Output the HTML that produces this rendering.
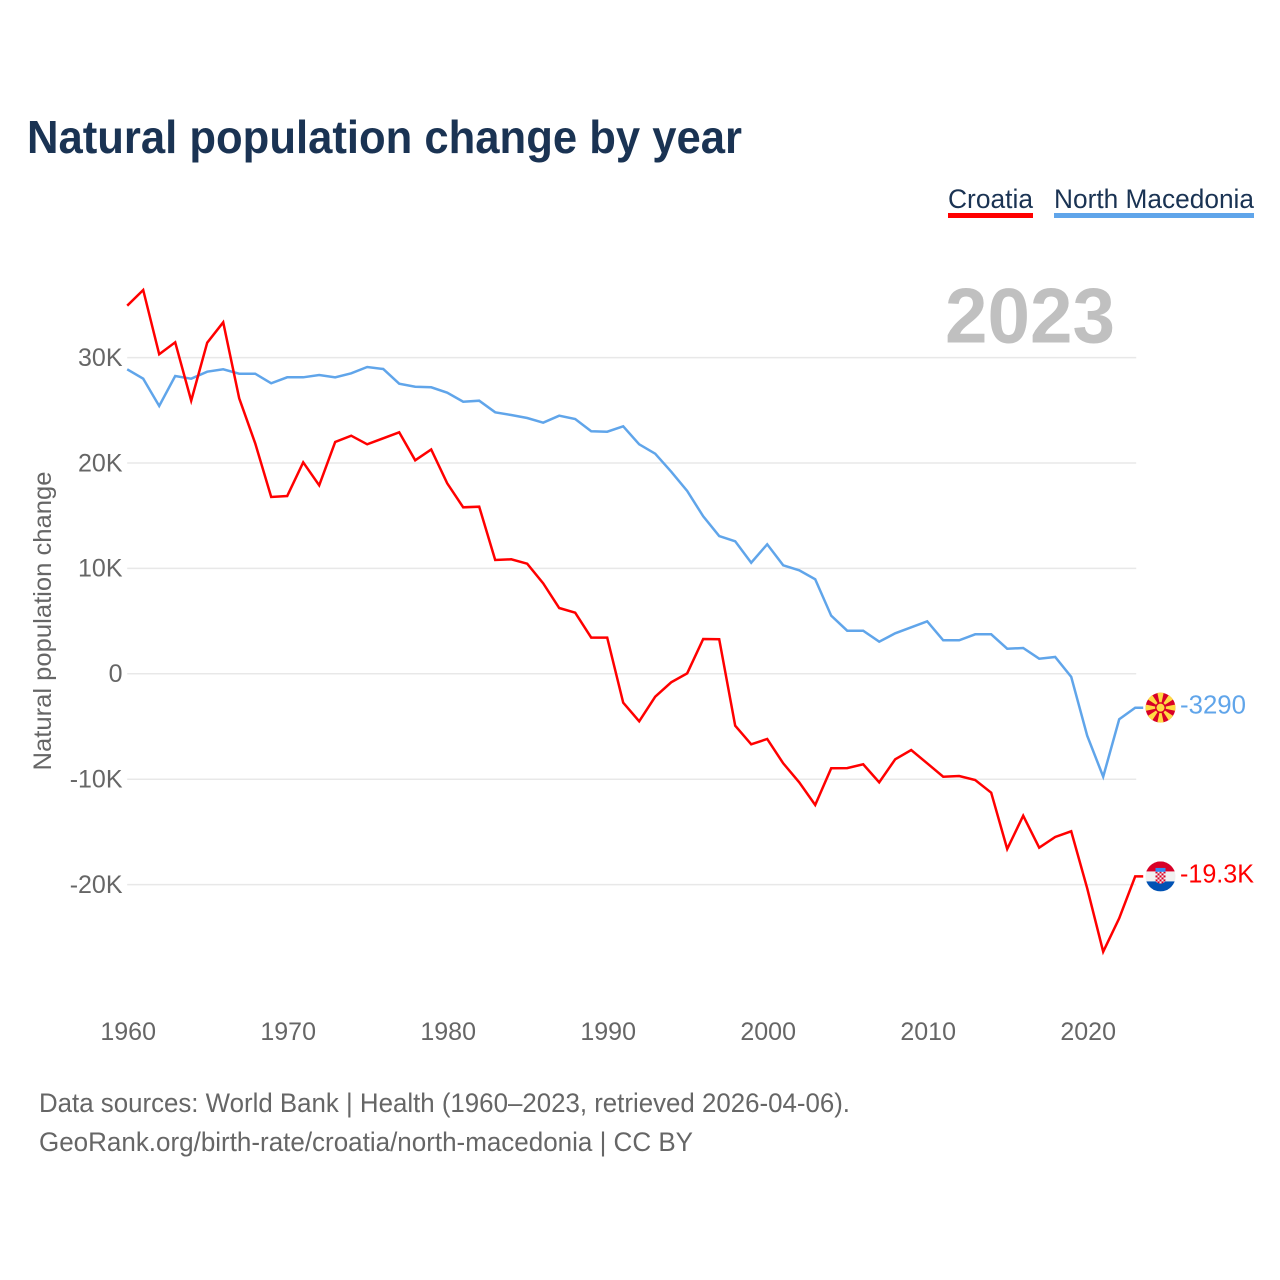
<!DOCTYPE html>
<html lang="en">
<head>
<meta charset="utf-8">
<title>Natural population change by year</title>
<style>
html,body{margin:0;padding:0;background:#fff;}
svg{display:block;font-family:"Liberation Sans",Arial,sans-serif;}
</style>
</head>
<body>
<svg id="chart" xmlns="http://www.w3.org/2000/svg" width="1280" height="1280" viewBox="0 0 1280 1280">
<defs>
<clipPath id="flag-clip"><circle cx="0" cy="0" r="15"/></clipPath>
<pattern id="checker" width="4" height="4" patternUnits="userSpaceOnUse" x="-5" y="-5">
<rect width="4" height="4" fill="#f0f0f0"/>
<rect width="2" height="2" fill="#d80027"/>
<rect x="2" y="2" width="2" height="2" fill="#d80027"/>
</pattern>
</defs>
<rect width="1280" height="1280" fill="#fff"/>
<text x="27" y="153" font-size="46" font-weight="700" fill="#1a3353" textLength="715" lengthAdjust="spacingAndGlyphs">Natural population change by year</text>

<g>
<g>
<text x="948" y="208" font-size="27" fill="#1a3353" textLength="85" lengthAdjust="spacingAndGlyphs">Croatia</text>
<rect x="948" y="213" width="85" height="5" fill="#ff0000"/>
</g>
<g>
<text x="1054" y="208" font-size="27" fill="#1a3353" textLength="200" lengthAdjust="spacingAndGlyphs">North Macedonia</text>
<rect x="1054" y="213" width="200" height="5" fill="#60a5ea"/>
</g>
</g>

<text transform="translate(51 621) rotate(-90)" text-anchor="middle" font-size="25" fill="#666" textLength="299" lengthAdjust="spacingAndGlyphs">Natural population change</text>

<g id="grid"></g>
<g id="y-ticks"></g>
<g id="x-ticks"></g>

<text x="945" y="342.5" font-size="78" font-weight="700" fill="#c0c0c0" textLength="170" lengthAdjust="spacingAndGlyphs">2023</text>

<polyline id="line-macedonia" fill="none" stroke="#60a5ea" stroke-width="2.5" stroke-linejoin="miter"/>
<polyline id="line-croatia" fill="none" stroke="#ff0000" stroke-width="2.5" stroke-linejoin="miter"/>

<g id="flag-macedonia">
<g clip-path="url(#flag-clip)">
<circle r="15" fill="#d80027"/>
<g fill="#ffda44">
<polygon points="0,0 -3.4,-16 3.4,-16"/>
<polygon points="0,0 -3.4,-16 3.4,-16" transform="rotate(45)"/>
<polygon points="0,0 -3.4,-16 3.4,-16" transform="rotate(90)"/>
<polygon points="0,0 -3.4,-16 3.4,-16" transform="rotate(135)"/>
<polygon points="0,0 -3.4,-16 3.4,-16" transform="rotate(180)"/>
<polygon points="0,0 -3.4,-16 3.4,-16" transform="rotate(225)"/>
<polygon points="0,0 -3.4,-16 3.4,-16" transform="rotate(270)"/>
<polygon points="0,0 -3.4,-16 3.4,-16" transform="rotate(315)"/>
</g>
<circle r="5.4" fill="#d80027"/>
<circle r="4" fill="#ffda44"/>
</g>
</g>

<g id="flag-croatia">
<g clip-path="url(#flag-clip)">
<rect x="-15" y="-15" width="30" height="30" fill="#f0f0f0"/>
<rect x="-15" y="-15" width="30" height="10" fill="#d80027"/>
<rect x="-15" y="5" width="30" height="10" fill="#0052b4"/>
<rect x="-5" y="-8.5" width="10" height="4" fill="#338af3"/>
<path d="M-5,-4.5 H5 V3.5 Q5,6.5 0,7.5 Q-5,6.5 -5,3.5 Z" fill="url(#checker)"/>
</g>
</g>

<text id="label-macedonia" x="1180" font-size="25.5" fill="#60a5ea" textLength="66" lengthAdjust="spacingAndGlyphs"></text>
<text id="label-croatia" x="1180" font-size="25.5" fill="#ff0000" textLength="74" lengthAdjust="spacingAndGlyphs"></text>

<g>
<text x="39" y="1112" font-size="27" fill="#666" textLength="811" lengthAdjust="spacingAndGlyphs">Data sources: World Bank | Health (1960–2023, retrieved 2026-04-06).</text>
<text x="39" y="1151" font-size="27" fill="#666" textLength="654" lengthAdjust="spacingAndGlyphs">GeoRank.org/birth-rate/croatia/north-macedonia | CC BY</text>
</g>
</svg>

<script>
const startYear = 1960;
const croatiaValues = [34920,36410,30310,31450,25910,31410,33350,26140,21870,16770,16870,20070,17880,21990,22590,21770,22340,22910,20260,21280,18070,15800,15850,10800,10860,10450,8590,6240,5800,3430,3430,-2740,-4510,-2170,-810,50,3300,3280,-4920,-6690,-6190,-8490,-10290,-12450,-8970,-8950,-8590,-10290,-8110,-7230,-8490,-9760,-9700,-10080,-11280,-16620,-13460,-16500,-15480,-14940,-20350,-26370,-23200,-19300];
const macedoniaValues = [28890,28000,25410,28250,28000,28660,28890,28470,28470,27560,28130,28130,28350,28130,28510,29110,28920,27520,27240,27180,26670,25820,25910,24810,24550,24270,23820,24490,24170,23010,22970,23480,21770,20880,19170,17340,14940,13070,12570,10540,12290,10290,9820,8970,5510,4090,4090,3050,3840,4410,4980,3180,3180,3750,3750,2380,2450,1430,1590,-280,-5870,-9760,-4320,-3290];
const yTickValues = [30000,20000,10000,0,-10000,-20000];
const yTickLabels = ["30K","20K","10K","0","-10K","-20K"];
const xTickValues = [1960,1970,1980,1990,2000,2010,2020];
const croatiaEndLabel = "-19.3K";
const macedoniaEndLabel = "-3290";

const SVG_NS = "http://www.w3.org/2000/svg";
function xScale(year) { return 127.2 + (year - 1960) * 16; }
function yScale(value) { return 673.8 - value * 0.01054; }

function linePoints(values) {
  const pts = values.map((v, i) => xScale(startYear + i).toFixed(1) + "," + yScale(v).toFixed(1));
  const lastX = xScale(startYear + values.length - 1);
  const lastY = yScale(values[values.length - 1]) - 0.8;
  pts[pts.length - 1] = lastX.toFixed(1) + "," + lastY.toFixed(1);
  pts.push((lastX + 8).toFixed(1) + "," + lastY.toFixed(1));
  return pts.join(" ");
}

const grid = document.getElementById("grid");
const yTicks = document.getElementById("y-ticks");
yTickValues.forEach((v, i) => {
  const line = document.createElementNS(SVG_NS, "line");
  
  
  line.setAttribute("x1", xScale(1960));
  line.setAttribute("x2", xScale(2023) + 1);
  line.setAttribute("y1", yScale(v));
  line.setAttribute("y2", yScale(v));
  line.setAttribute("stroke", "#e8e8e8");
  line.setAttribute("stroke-width", "1.5");
  grid.appendChild(line);

  const t = document.createElementNS(SVG_NS, "text");
  
  
  t.setAttribute("x", 122.5);
  t.setAttribute("y", yScale(v) + 8.3);
  t.setAttribute("text-anchor", "end");
  t.setAttribute("font-size", "25");
  t.setAttribute("fill", "#666");
  t.textContent = yTickLabels[i];
  yTicks.appendChild(t);
});

const xTicks = document.getElementById("x-ticks");
xTickValues.forEach((yr) => {
  const t = document.createElementNS(SVG_NS, "text");
  
  
  t.setAttribute("x", xScale(yr) + 1);
  t.setAttribute("y", 1040);
  t.setAttribute("text-anchor", "middle");
  t.setAttribute("font-size", "25");
  t.setAttribute("fill", "#666");
  t.textContent = yr;
  xTicks.appendChild(t);
});

document.getElementById("line-croatia").setAttribute("points", linePoints(croatiaValues));
document.getElementById("line-macedonia").setAttribute("points", linePoints(macedoniaValues));

const flagX = xScale(2023) + 25.3;
const croatiaEndY = yScale(croatiaValues[croatiaValues.length - 1]) - 0.8;
const macedoniaEndY = yScale(macedoniaValues[macedoniaValues.length - 1]) - 0.8;
document.getElementById("flag-croatia").setAttribute("transform", "translate(" + flagX + " " + croatiaEndY + ")");
document.getElementById("flag-macedonia").setAttribute("transform", "translate(" + flagX + " " + macedoniaEndY + ")");

const labelCroatia = document.getElementById("label-croatia");
labelCroatia.setAttribute("y", croatiaEndY + 6.3);
labelCroatia.textContent = croatiaEndLabel;
const labelMacedonia = document.getElementById("label-macedonia");
labelMacedonia.setAttribute("y", macedoniaEndY + 5.8);
labelMacedonia.textContent = macedoniaEndLabel;
</script>
</body>
</html>
